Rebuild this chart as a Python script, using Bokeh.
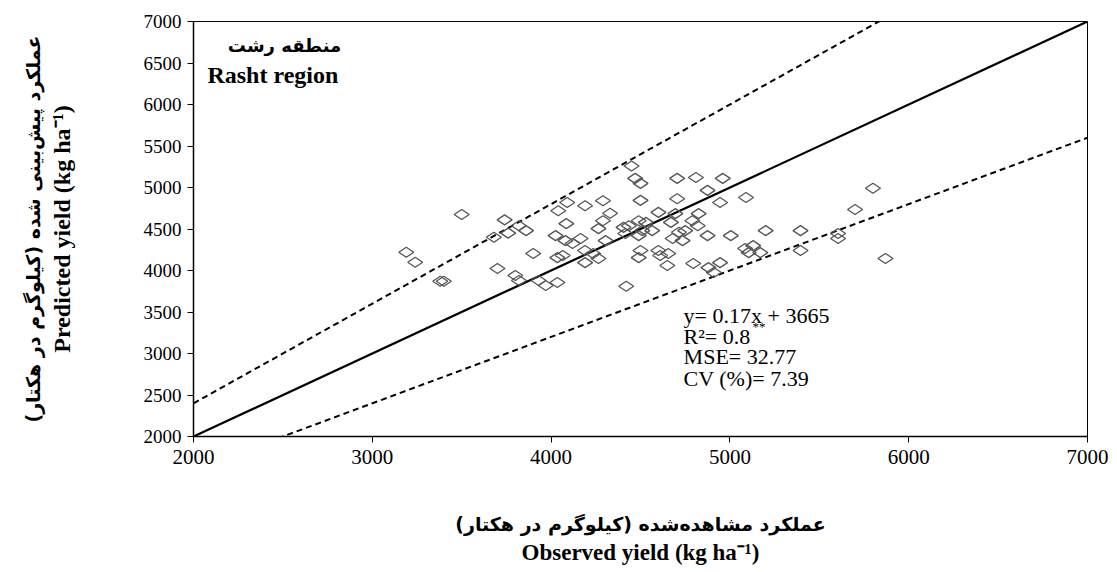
import math
from bokeh.plotting import figure
from bokeh.models import FixedTicker, Label, Range1d, LinearAxis
from bokeh.embed import file_html
from bokeh.resources import INLINE

# Observed vs predicted yield (kg/ha), Rasht region
observed = [3190, 3240, 3380, 3400, 3500, 3700, 3680, 3740, 3760, 3820, 3860, 3800, 3820, 3900,
            4040, 4090, 4190, 4290, 4330, 4290, 4265, 4085, 4405, 4025, 4080, 4120, 4165, 4305,
            4190, 4265, 4035, 4065, 4235, 4190, 3930, 3970, 4035, 4420, 4450, 4470, 4500, 4705,
            4810, 4960, 4875, 4500, 4705, 4945, 5090, 4600, 4695, 4825, 4490, 4530, 4435, 4415,
            4510, 4565, 4670, 4790, 4820, 4715, 4750, 4680, 4735, 4875, 5005, 4490, 4500, 4600,
            4655, 4490, 4610, 4650, 4795, 4880, 4910, 4945, 5085, 5800, 5700, 5200, 5395, 5605,
            5605, 5130, 5170, 5105, 5395, 5870]
predicted = [4220, 4100, 3870, 3870, 4675, 4025, 4400, 4610, 4450, 4540, 4480, 3940, 3880, 4205,
             4720, 4820, 4780, 4840, 4690, 4600, 4505, 4565, 4520, 4420, 4360, 4325, 4385, 4360,
             4240, 4145, 4155, 4180, 4205, 4095, 3880, 3820, 3855, 3810, 5260, 5110, 5050, 5110,
             5120, 5110, 4965, 4845, 4865, 4820, 4880, 4700, 4685, 4685, 4600, 4580, 4540, 4445,
             4480, 4480, 4580, 4600, 4540, 4460, 4480, 4385, 4360, 4420, 4420, 4420, 4240, 4240,
             4205, 4155, 4180, 4060, 4085, 4035, 3975, 4095, 4265, 4990, 4735, 4480, 4480, 4445,
             4385, 4300, 4215, 4215, 4240, 4145]

x_ticks = [2000, 3000, 4000, 5000, 6000, 7000]
y_ticks = [2000, 2500, 3000, 3500, 4000, 4500, 5000, 5500, 6000, 6500, 7000]

ref_x = [2000, 7000]
one_to_one = [v * 1.0 for v in ref_x]
upper_band = [v * 1.2 for v in ref_x]
lower_band = [v * 0.8 for v in ref_x]

stats_lines = ["y= 0.17x + 3665", "R\u00b2= 0.8", "MSE= 32.77", "CV (%)= 7.39"]

p = figure(width=1112, height=572, output_backend="svg", toolbar_location=None,
           x_range=Range1d(2000, 7000), y_range=Range1d(2000, 7000),
           min_border_left=193, min_border_right=25, min_border_top=21, min_border_bottom=136)

p.xgrid.visible = False
p.ygrid.visible = False
p.outline_line_color = "black"
p.outline_line_width = 1
p.background_fill_color = "white"
p.border_fill_color = "white"

p.line(ref_x, upper_band, line_color="black", line_width=2, line_dash="6 4")
p.line(ref_x, lower_band, line_color="black", line_width=2, line_dash="6 4")
p.line(ref_x, one_to_one, line_color="black", line_width=2.2)

p.scatter(observed, predicted, marker="diamond", size=15, angle=math.pi / 2,
          fill_color=None, line_color="#555555", line_width=1.3)

p.xaxis.ticker = FixedTicker(ticks=x_ticks)
p.yaxis.ticker = FixedTicker(ticks=y_ticks)
for ax in (p.xaxis, p.yaxis):
    ax.minor_tick_line_color = None
    ax.major_tick_out = 6
    ax.major_tick_in = 0
    ax.axis_line_width = 1.5
    ax.axis_line_color = "black"
    ax.major_tick_line_color = "black"
    ax.major_label_text_font = "Liberation Serif"
    ax.major_label_text_color = "black"
    ax.axis_label_text_color = "black"
    ax.axis_label_text_font_style = "bold"

p.xaxis.major_label_text_font_size = "21px"
p.yaxis.major_label_text_font_size = "19px"
p.yaxis.major_label_standoff = 6
p.xaxis.major_label_standoff = 7

# x: Persian line on the main axis, English line on an extra axis below it
p.xaxis.axis_label = "عملکرد مشاهده‌شده (کیلوگرم در هکتار)"
p.xaxis.axis_label_text_font = "DejaVu Sans"
p.xaxis.axis_label_text_font_size = "19px"
p.xaxis.axis_label_standoff = 46

x_en = LinearAxis(axis_label="Observed yield (kg ha\u207b\u00b9)", ticker=FixedTicker(ticks=[]))
# y: English line on the main axis, Persian line on an extra axis further left
p.yaxis.axis_label = "Predicted yield (kg ha\u207b\u00b9)"
p.yaxis.axis_label_text_font = "Liberation Serif"
p.yaxis.axis_label_text_font_size = "24px"
p.yaxis.axis_label_standoff = 66

y_fa = LinearAxis(axis_label="عملکرد پیش‌بینی شده (کیلوگرم در هکتار)", ticker=FixedTicker(ticks=[]))

for ax in (x_en, y_fa):
    ax.axis_line_color = None
    ax.major_tick_line_color = None
    ax.minor_tick_line_color = None
    ax.major_label_text_font_size = "0px"
    ax.major_label_standoff = 0
    ax.major_tick_out = 0
    ax.axis_label_text_color = "black"
    ax.axis_label_text_font_style = "bold"

x_en.axis_label_text_font = "Liberation Serif"
x_en.axis_label_text_font_size = "23px"
x_en.axis_label_standoff = 2
y_fa.axis_label_text_font = "DejaVu Sans"
y_fa.axis_label_text_font_size = "19px"
y_fa.axis_label_standoff = 2

p.add_layout(x_en, "below")
p.add_layout(y_fa, "left")

p.add_layout(Label(x=2509, y=6711, text="منطقه رشت", text_font="DejaVu Sans",
                   text_font_style="bold", text_font_size="18px", text_align="center",
                   text_baseline="middle", text_color="black"))
p.add_layout(Label(x=2078, y=6361, text="Rasht region", text_font="Liberation Serif",
                   text_font_style="bold", text_font_size="24px", text_align="left",
                   text_baseline="middle", text_color="black"))

stats_y = [3458, 3205, 2964, 2699]
for t, yy in zip(stats_lines, stats_y):
    p.add_layout(Label(x=4741, y=yy, text=t, text_font="Liberation Serif",
                       text_font_size="22px", text_align="left", text_baseline="middle",
                       text_color="black"))
p.add_layout(Label(x=5126, y=3330, text="**", text_font="Liberation Serif",
                   text_font_size="13px", text_align="left", text_baseline="middle",
                   text_color="black"))

with open("out.html", "w") as f:
    f.write(file_html(p, INLINE))
